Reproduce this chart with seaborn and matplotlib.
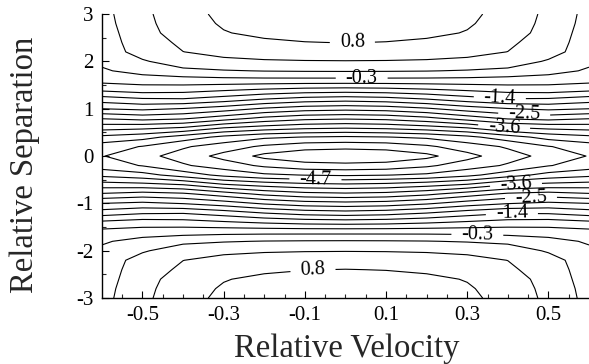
import numpy as np
import matplotlib
matplotlib.use("Agg")
import matplotlib.pyplot as plt
import seaborn as sns

# ---- data (one quadrant, x >= 0, y >= 0; field is mirror-symmetric) ----
y_nodes = [0.0, 0.2, 0.4, 0.6, 0.8, 1.0, 1.2, 1.4, 1.6, 1.8, 2.0, 2.2, 2.4, 2.6, 2.8, 3.0]
x_nodes = [0.0, 0.1, 0.2, 0.3, 0.4, 0.5, 0.6]
v_x00 = [-6.12, -5.69, -5.12, -4.29, -3.53, -2.75, -1.98, -1.19, -0.42, 0.10, 0.42, 0.62, 0.81, 0.95, 1.05, 1.12]
v_x01 = [-6.06, -5.66, -5.08, -4.24, -3.48, -2.70, -1.92, -1.16, -0.42, 0.095, 0.415, 0.61, 0.79, 0.93, 1.03, 1.10]
v_x02 = [-5.90, -5.50, -5.00, -4.12, -3.32, -2.55, -1.78, -1.08, -0.42, 0.08, 0.40, 0.58, 0.74, 0.88, 0.96, 1.02]
v_x03 = [-5.55, -5.25, -4.80, -3.95, -3.05, -2.32, -1.58, -0.98, -0.43, 0.04, 0.37, 0.52, 0.65, 0.78, 0.84, 0.88]
v_x04 = [-5.22, -5.02, -4.50, -3.62, -2.80, -2.15, -1.43, -0.88, -0.46, -0.03, 0.29, 0.43, 0.50, 0.60, 0.64, 0.67]
v_x05 = [-4.95, -4.72, -4.20, -3.50, -2.72, -2.05, -1.45, -0.85, -0.50, -0.16, 0.02, 0.24, 0.26, 0.30, 0.33, 0.35]
v_x06 = [-4.68, -4.52, -4.06, -3.45, -2.83, -2.13, -1.58, -0.95, -0.55, -0.35, -0.22, -0.18, -0.12, -0.10, -0.07, -0.05]

levels = [-5.8, -5.4333, -5.0667, -4.7, -4.3333, -3.9667, -3.6, -3.2333, -2.8667,
          -2.5, -2.1333, -1.7667, -1.4, -1.0333, -0.6667, -0.3, 0.0667, 0.4333, 0.8, 1.1667]
label_values = [-4.7, -3.6, -2.5, -1.4, -0.3, 0.8]
label_positions = [(0.017, 2.39), (-0.08, -2.41), (0.04, 1.63), (0.325, -1.63),
                   (0.38, 1.18), (0.41, -1.20), (0.44, 0.80), (0.457, -0.87),
                   (0.39, 0.53), (0.42, -0.57), (-0.074, -0.51)]
x_ticks = [-0.5, -0.3, -0.1, 0.1, 0.3, 0.5]
x_tick_labels = ["-0.5", "-0.3", "-0.1", "0.1", "0.3", "0.5"]
y_ticks = [-3, -2, -1, 0, 1, 2, 3]
y_tick_labels = ["-3", "-2", "-1", "0", "1", "2", "3"]

# ---- build the full mirrored grid ----
Q = np.array([v_x00, v_x01, v_x02, v_x03, v_x04, v_x05, v_x06]).T  # rows: y, cols: x
Qx = np.hstack([Q[:, :0:-1], Q])
Z = np.vstack([Qx[:0:-1, :], Qx])
xs = np.array(x_nodes)
ys = np.array(y_nodes)
xf = np.concatenate([-xs[:0:-1], xs])
yf = np.concatenate([-ys[:0:-1], ys])
X, Y = np.meshgrid(xf, yf)

plain_levels = [lv for lv in levels if not any(np.isclose(lv, v, atol=1e-3) for v in label_values)]

# ---- plot ----
sns.set_theme(style="ticks")
plt.rcParams["font.family"] = ["Liberation Serif", "DejaVu Serif"]
plt.rcParams["axes.unicode_minus"] = False

fig = plt.figure(figsize=(5.89, 3.64), dpi=100)
ax = fig.add_axes([0.173, 0.181, 0.827, 0.7805])
ax.contour(X, Y, Z, levels=plain_levels, colors="black", linewidths=0.8,
           linestyles="solid", negative_linestyles="solid")
cs = ax.contour(X, Y, Z, levels=label_values, colors="black", linewidths=0.8,
                linestyles="solid", negative_linestyles="solid")
ax.clabel(cs, inline=True, inline_spacing=10, fontsize=14.5,
          fmt=lambda v: f"{v:.1f}", manual=label_positions)

ax.set_xlim(-0.6, 0.6)
ax.set_ylim(-3, 3)
ax.set_xticks(x_ticks)
ax.set_xticklabels(x_tick_labels)
ax.set_xticks(np.arange(-0.55, 0.6, 0.05), minor=True)
ax.set_yticks(y_ticks)
ax.set_yticklabels(y_tick_labels)
ax.set_yticks(np.arange(-2.5, 3, 1.0), minor=True)
ax.tick_params(which="major", direction="in", length=5, width=0.8, labelsize=15,
               colors="black", pad=6)
ax.tick_params(which="minor", direction="in", length=3, width=0.8)
for s in ["top", "right"]:
    ax.spines[s].set_visible(False)
for s in ["left", "bottom"]:
    ax.spines[s].set_color("black")
    ax.spines[s].set_linewidth(1.0)
ax.set_xlabel("Relative Velocity", fontsize=23.5, va="center")
ax.xaxis.set_label_coords(0.503, -0.178)
ax.set_ylabel("Relative Separation", fontsize=23.5, va="center")
ax.yaxis.set_label_coords(-0.158, 0.47)
fig.savefig("out.png", dpi=100, facecolor="white")
